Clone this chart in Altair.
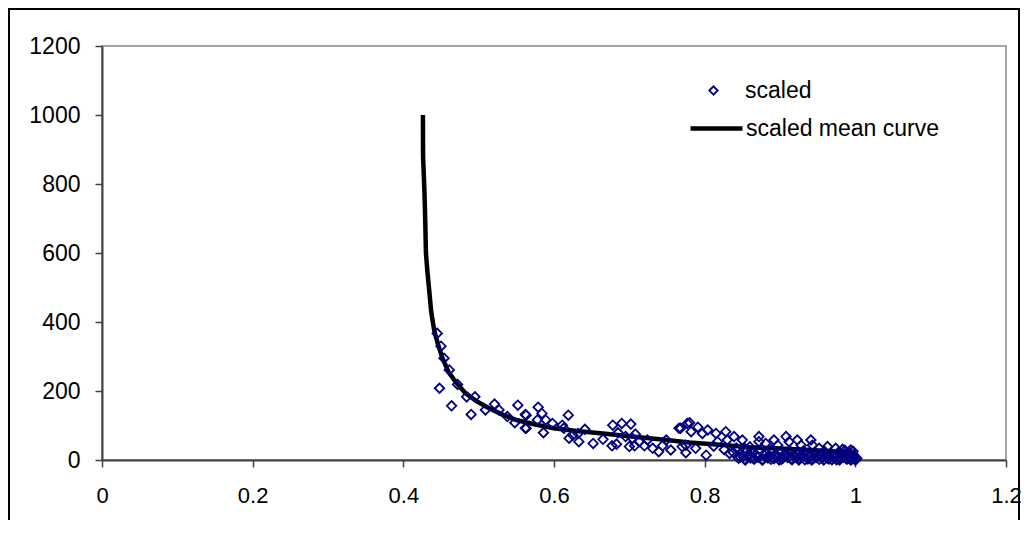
import altair as alt
import pandas as pd

# ---- data ----
scatter_x = [
    0.445, 0.450, 0.454, 0.461, 0.448, 0.472, 0.464, 0.484, 0.495, 0.490,
    0.509, 0.521, 0.527, 0.538, 0.548, 0.552, 0.562, 0.562,
    0.563, 0.579, 0.584, 0.578, 0.589, 0.563, 0.586, 0.598, 0.619, 0.611,
    0.613, 0.620, 0.625, 0.632, 0.633, 0.641, 0.652, 0.665, 0.678, 0.677,
    0.683, 0.690, 0.685, 0.702, 0.695, 0.704, 0.708, 0.700, 0.707, 0.713,
    0.720, 0.724, 0.731, 0.739, 0.744, 0.749, 0.755, 0.766, 0.770, 0.775,
    0.777,
    0.768, 0.780, 0.782, 0.791, 0.797, 0.804, 0.775, 0.788, 0.802, 0.815,
    0.817, 0.828, 0.830, 0.833, 0.839, 0.850, 0.853, 0.872, 0.872, 0.881,
    0.892, 0.897, 0.908, 0.912, 0.923, 0.928, 0.941, 0.943, 0.952, 0.963,
    0.974, 0.983, 0.994,
    0.845, 0.848, 0.851, 0.853, 0.856, 0.858, 0.861, 0.863, 0.866, 0.868,
    0.871, 0.874, 0.876, 0.879, 0.881, 0.884, 0.887, 0.889, 0.892, 0.894,
    0.897, 0.900, 0.902, 0.905, 0.907, 0.910, 0.913, 0.915, 0.918, 0.920,
    0.923, 0.926, 0.928, 0.931, 0.933, 0.936, 0.939, 0.941, 0.944, 0.946,
    0.949, 0.952, 0.954, 0.957, 0.959, 0.962, 0.965, 0.967, 0.970, 0.972,
    0.975, 0.978, 0.980, 0.983, 0.985, 0.988, 0.990, 0.993, 0.995, 0.998,
    1.000, 1.000, 0.997, 0.992, 0.986, 0.842, 0.838, 0.826, 0.812, 0.860,
    0.847, 0.854, 0.859, 0.865, 0.870, 0.877, 0.883, 0.888, 0.895, 0.899,
    0.904, 0.909, 0.916, 0.921, 0.925, 0.930, 0.937, 0.942, 0.948, 0.953,
    0.958, 0.963, 0.969, 0.974, 0.979, 0.984, 0.989, 0.994, 0.999, 1.002,
]
scatter_y = [
    367, 330, 295, 261, 208, 219, 157, 183, 183, 132,
    145, 162, 145, 126, 108, 159, 132, 92,
    130, 153, 135, 116, 116, 92, 79, 106, 130, 101,
    92, 63, 72, 77, 53, 89, 48, 60, 101, 41,
    46, 106, 79, 104, 68, 63, 75, 39, 41, 53,
    41, 58, 34, 24, 41, 58, 29, 92, 39, 21,
    106,
    92, 108, 82, 95, 77, 87, 43, 34, 14, 77,
    53, 82, 58, 19, 68, 58, 34, 68, 53, 48,
    58, 43, 68, 53, 58, 43, 58, 43, 34, 39,
    34, 31, 29,
    5, 18, 10, 2, 25, 12, 6, 20, 3, 15,
    8, 28, 1, 14, 22, 6, 11, 30, 4, 17,
    9, 24, 2, 13, 19, 7, 27, 3, 16, 10,
    21, 5, 12, 26, 1, 18, 8, 14, 4, 22,
    11, 2, 17, 7, 25, 13, 3, 19, 9, 15,
    1, 23, 6, 12, 18, 4, 10, 20, 2, 14,
    7, 0, 25, 5, 28, 35, 22, 30, 40, 38,
    9, 0, 16, 4, 11, 0, 9, 2, 12, 0,
    6, 15, 1, 8, 0, 11, 3, 0, 7, 14,
    0, 5, 1, 10, 0, 8, 3, 0, 11, 4,
]

curve_x = [
    0.426, 0.4262, 0.428, 0.429, 0.430, 0.432, 0.434, 0.437, 0.441, 0.446,
    0.452, 0.460, 0.470, 0.482, 0.496, 0.512, 0.530, 0.550, 0.575, 0.600,
    0.630, 0.665, 0.700, 0.740, 0.780, 0.820, 0.860, 0.900, 0.940, 0.980,
    1.000,
]
curve_y = [
    1000, 880, 780, 700, 600, 545, 500, 430, 375, 335,
    295, 255, 225, 195, 172, 152, 133, 116, 103, 92,
    84, 77, 69, 60, 51, 44, 37, 33, 29, 24,
    21,
]

x_ticks = [0, 0.2, 0.4, 0.6, 0.8, 1, 1.2]
y_ticks = [0, 200, 400, 600, 800, 1000, 1200]

FONT = "Liberation Sans"
NAVY = "#000080"
AXIS_GREY = "#404040"
FS = 23

pts = pd.DataFrame({"x": scatter_x, "y": scatter_y, "s1": "scaled"})
crv = pd.DataFrame({"x": curve_x, "y": curve_y,
                    "idx": list(range(len(curve_x))),
                    "s2": "scaled mean curve"})

xscale = alt.Scale(domain=[0, 1.2], nice=False, zero=False)
yscale = alt.Scale(domain=[0, 1200], nice=False)

xaxis = alt.Axis(values=x_ticks, format="~g", title=None, grid=False,
                 domainColor=AXIS_GREY, domainWidth=2, tickColor=AXIS_GREY,
                 tickWidth=1.5, tickSize=7, labelFont=FONT, labelFontSize=22,
                 labelColor="black", labelPadding=18, labelFlush=False)
yaxis = alt.Axis(values=y_ticks, format="d", title=None, grid=False,
                 domainColor=AXIS_GREY, domainWidth=2, tickColor=AXIS_GREY,
                 tickWidth=1.5, tickSize=7, labelFont=FONT, labelFontSize=FS,
                 labelColor="black", labelPadding=15, labelFlush=False)

points = alt.Chart(pts).mark_point(
    shape="diamond", filled=False, color=NAVY, strokeWidth=1.8, size=90,
    opacity=1
).encode(
    x=alt.X("x:Q", scale=xscale, axis=xaxis),
    y=alt.Y("y:Q", scale=yscale, axis=yaxis),
    shape=alt.Shape("s1:N", scale=alt.Scale(domain=["scaled"], range=["diamond"]),
                    legend=alt.Legend(title=None, orient="none", legendX=600,
                                      legendY=33, padding=0, labelLimit=0,
                                      labelFont=FONT, labelFontSize=FS,
                                      labelColor="black", labelOffset=20,
                                      symbolStrokeColor=NAVY,
                                      symbolFillColor="white",
                                      symbolSize=70, symbolStrokeWidth=1.8)),
)

line = alt.Chart(crv).mark_line(color="black", strokeWidth=4.5).encode(
    x=alt.X("x:Q", scale=xscale, axis=xaxis),
    y=alt.Y("y:Q", scale=yscale, axis=yaxis),
    order="idx:Q",
    color=alt.Color("s2:N",
                    scale=alt.Scale(domain=["scaled mean curve"], range=["black"]),
                    legend=alt.Legend(title=None, orient="none", legendX=586,
                                      legendY=54, padding=0, labelLimit=0,
                                      labelFont=FONT, labelFontSize=FS,
                                      labelColor="black", labelOffset=1,
                                      symbolType="stroke", symbolSize=2704,
                                      symbolStrokeWidth=4.5)),
)

frame = alt.Chart(pd.DataFrame({"a": [0]})).mark_rect(
    fill="white", fillOpacity=0, stroke="black", strokeWidth=2, clip=False
).encode(x=alt.value(-93), x2=alt.value(917), y=alt.value(-37), y2=alt.value(700))

chart = alt.layer(frame, line, points).resolve_legend(
    shape="independent", color="independent"
).properties(
    width=904, height=414,
    padding={"left": 94, "top": 38, "right": 15, "bottom": 60},
    autosize=alt.AutoSizeParams(type="none"),
).configure_view(stroke="#a6a6a6", strokeWidth=2)

chart.save("out.html", embed_options={"renderer": "svg", "actions": False})
